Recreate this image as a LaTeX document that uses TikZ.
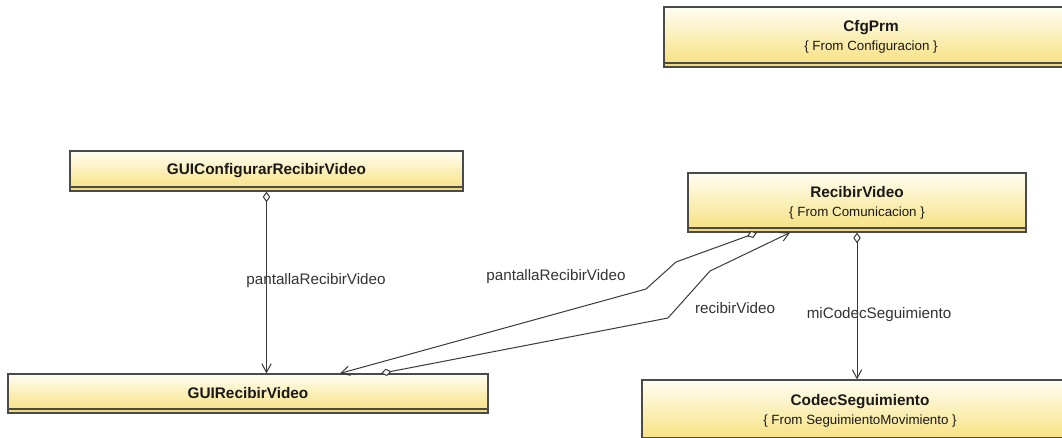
\documentclass[tikz,border=0pt]{standalone}
\usepackage{fontspec}
\setmainfont{Liberation Sans}
\usetikzlibrary{arrows.meta}

\definecolor{boxtop}{HTML}{FFFEF2}
\definecolor{boxbot}{HTML}{F7E07C}
\definecolor{stripcol}{HTML}{F3DB74}
\definecolor{edgecol}{HTML}{4A4A4A}
\definecolor{wirecol}{HTML}{3A3A3A}

\newcommand\clsfont{\fontsize{11.5pt}{14.3pt}\selectfont}
\newcommand\subfnt{\fontsize{10pt}{12pt}\selectfont}
\newcommand\lblfont{\fontsize{11.4pt}{14pt}\selectfont}

\tikzset{
  umlclass/.style={
    draw=edgecol, line width=0.9pt, top color=boxtop, bottom color=boxbot,
    inner sep=0pt, align=center, font=\clsfont, text=black!90,
    path picture={
      \fill[stripcol] ([yshift=3pt]path picture bounding box.south west)
        rectangle (path picture bounding box.south east);
      \draw[edgecol, line width=0.8pt]
        ([yshift=3pt]path picture bounding box.south west) --
        ([yshift=3pt]path picture bounding box.south east);
    }},
  assoc/.style={draw=wirecol, line width=0.75pt,
    {Diamond[fill=white,length=8pt,width=5.6pt]}-{Straight Barb[length=6.5pt,width=7pt]}},
  rolelbl/.style={font=\lblfont, inner sep=0pt, text=black!80}
}

\begin{document}
\begin{tikzpicture}[x=0.75pt, y=-0.75pt]
  \useasboundingbox (0,0) rectangle (1062,438);
  \clip (0,0) rectangle (1062,438);
  \fill[white] (0,0) rectangle (1062,438);

  % classes
  \node[umlclass, minimum width=310.5pt, minimum height=45pt] (cfg) at (871,37)
    {\textbf{CfgPrm}\\{\subfnt \{ From Configuracion \}}};
  \node[umlclass, minimum width=294.75pt, minimum height=30pt] (guiconf) at (266.5,171)
    {\textbf{GUIConfigurarRecibirVideo}};
  \node[umlclass, minimum width=253.5pt, minimum height=44.25pt] (recv) at (857,202.5)
    {\textbf{RecibirVideo}\\{\subfnt \{ From Comunicacion \}}};
  \node[umlclass, minimum width=360pt, minimum height=29.25pt] (guirecv) at (248,393.5)
    {\textbf{GUIRecibirVideo}};
  \node[umlclass, minimum width=327pt, minimum height=46.5pt] (codec) at (860,411)
    {\textbf{CodecSeguimiento}\\{\subfnt \{ From SeguimientoMovimiento \}}};

  % attachment columns and bends of the routed associations
  \coordinate (c2s) at (757,0);
  \coordinate (c2e) at (340,0);
  \coordinate (c2a) at (676,262);
  \coordinate (c2b) at (646,289);
  \coordinate (c3s) at (381,0);
  \coordinate (c3e) at (790,0);
  \coordinate (c3a) at (668,318);
  \coordinate (c3b) at (710,271);

  % associations
  \draw[assoc] (guiconf.south) -- (guiconf.south |- guirecv.north);
  \draw[assoc] (recv.south -| c2s) -- (c2a) -- (c2b) -- (guirecv.north -| c2e);
  \draw[assoc] (guirecv.north -| c3s) -- (c3a) -- (c3b) -- (recv.south -| c3e);
  \draw[assoc] (recv.south) -- (recv.south |- codec.north);

  % role names
  \node[rolelbl] (r1) at (316,281) {pantallaRecibirVideo};
  \node[rolelbl] (r2) at (556,277) {pantallaRecibirVideo};
  \node[rolelbl] (r3) at (735,308) {recibirVideo};
  \node[rolelbl] (r4) at (879,315) {miCodecSeguimiento};
\end{tikzpicture}
\end{document}
